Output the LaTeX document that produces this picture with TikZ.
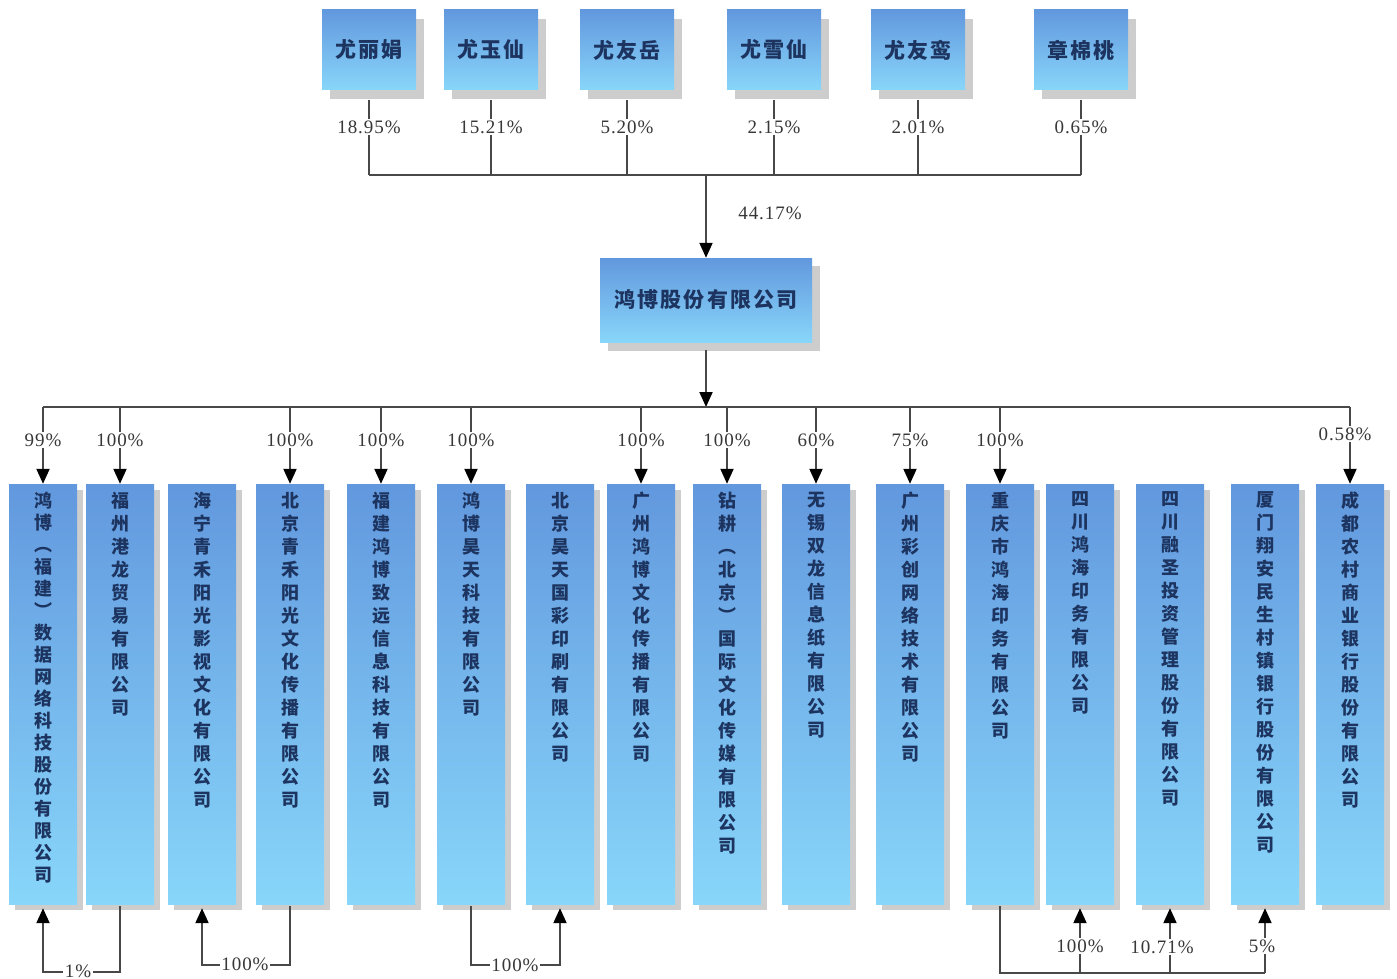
\documentclass[tikz,border=0pt]{standalone}
\usepackage{fontspec}
\setmainfont{Liberation Serif}
\newfontfamily\cjk{Noto Sans CJK SC}
\usetikzlibrary{shadows,arrows.meta}
\definecolor{boxtop}{RGB}{98,152,222}
\definecolor{boxbot}{RGB}{136,214,250}
\definecolor{txtc}{RGB}{28,52,95}
\definecolor{linec}{RGB}{72,72,72}
\definecolor{shadowc}{RGB}{205,205,205}
\definecolor{pctc}{RGB}{55,55,55}
\newcommand\cjkbig{\cjk\bfseries\fontsize{21}{24}\selectfont\addfontfeature{LetterSpace=10}}
\newcommand\cjkv{\cjk\bfseries\fontsize{18}{22}\selectfont}
\newcommand\pctfont{\fontsize{19}{21}\selectfont\addfontfeature{LetterSpace=5}}
\def\vtloop#1{\ifx#1\relax\else\hbox to 20pt{\hss#1\hss}\expandafter\vtloop\fi}
\newcommand\vertext[2][23]{\vbox to 404pt{\baselineskip=#1pt\lineskiplimit=-30pt\lineskip=0pt\vtloop#2\relax\vss}}
\begin{document}
\begin{tikzpicture}[x=1pt,y=-1pt,
  conn/.style={draw=linec, line width=2pt},
  arr/.style={-{Triangle[width=13pt,length=15pt,color=black]}},
  topbox/.style={top color=boxtop, bottom color=boxbot, inner sep=0pt,
    minimum width=94pt, minimum height=80pt, text=txtc, font=\cjkbig,
    drop shadow={shadow xshift=8pt, shadow yshift=-9pt, fill=shadowc, opacity=1}},
  mainbox/.style={topbox, minimum width=212pt, minimum height=84pt,
    drop shadow={shadow xshift=8pt, shadow yshift=-8pt, fill=shadowc, opacity=1}},
  bbox/.style={top color=boxtop, bottom color=boxbot, inner sep=0pt,
    minimum width=68pt, minimum height=420pt, text=txtc, font=\cjkv,
    drop shadow={shadow xshift=6pt, shadow yshift=-6pt, fill=shadowc, opacity=1}},
  pct/.style={fill=white, inner sep=1.5pt, text=pctc, font=\pctfont}
]
\fill[white] (0,0) rectangle (1397,979);
\useasboundingbox (0,0) rectangle (1397,979);

% levels
\coordinate (tb) at (0,175);
\coordinate (tl) at (0,127);
\coordinate (bb) at (0,407);
\coordinate (bl) at (0,440);
\coordinate (c1) at (0,972);
\coordinate (c2) at (0,965);
\coordinate (c3) at (0,973);
\coordinate (cl) at (0,946);

% top shareholders
\node[topbox] (t1) at (369,50) {尤丽娟};
\node[topbox] (t2) at (491,50) {尤玉仙};
\node[topbox] (t3) at (627,50) {尤友岳};
\node[topbox] (t4) at (774,50) {尤雪仙};
\node[topbox] (t5) at (918,50) {尤友鸾};
\node[topbox] (t6) at (1081,50) {章棉桃};

\node[mainbox] (m) at (706,300) {鸿博股份有限公司};

% bottom companies
\node[bbox] (b1) at (43,694) {\vertext[22]{鸿博︵福建︶数据网络科技股份有限公司}};
\node[bbox] (b2) at (120,694) {\vertext{福州港龙贸易有限公司}};
\node[bbox] (b3) at (202,694) {\vertext{海宁青禾阳光影视文化有限公司}};
\node[bbox] (b4) at (290,694) {\vertext{北京青禾阳光文化传播有限公司}};
\node[bbox] (b5) at (381,694) {\vertext{福建鸿博致远信息科技有限公司}};
\node[bbox] (b6) at (471,694) {\vertext{鸿博昊天科技有限公司}};
\node[bbox] (b7) at (560,694) {\vertext{北京昊天国彩印刷有限公司}};
\node[bbox] (b8) at (641,694) {\vertext{广州鸿博文化传播有限公司}};
\node[bbox] (b9) at (727,694) {\vertext{钻耕︵北京︶国际文化传媒有限公司}};
\node[bbox] (b10) at (816,694) {\vertext{无锡双龙信息纸有限公司}};
\node[bbox] (b11) at (910,694) {\vertext{广州彩创网络技术有限公司}};
\node[bbox] (b12) at (1000,694) {\vertext{重庆市鸿海印务有限公司}};
\node[bbox] (b13) at (1080,694) {\vertext{四川鸿海印务有限公司}};
\node[bbox] (b14) at (1170,694) {\vertext{四川融圣投资管理股份有限公司}};
\node[bbox] (b15) at (1265,694) {\vertext{厦门翔安民生村镇银行股份有限公司}};
\node[bbox] (b16) at (1350,694) {\vertext{成都农村商业银行股份有限公司}};

% top connectors
\foreach \n in {t1,t2,t3,t4,t5,t6}{
  \draw[conn] ([yshift=-10pt]\n.south) -- (\n.south |- tb);
}
\draw[conn] (t1.south |- tb) -- (t6.south |- tb);
\node[pct] (p1) at (t1.south |- tl) {18.95\%};
\node[pct] (p2) at (t2.south |- tl) {15.21\%};
\node[pct] (p3) at (t3.south |- tl) {5.20\%};
\node[pct] (p4) at (t4.south |- tl) {2.15\%};
\node[pct] (p5) at (t5.south |- tl) {2.01\%};
\node[pct] (p6) at (t6.south |- tl) {0.65\%};

\draw[conn,arr] (m.north |- tb) -- (m.north);
\node[pct] (pm) at (770,213) {44.17\%};

% bottom bus
\draw[conn,arr] ([yshift=-8pt]m.south) -- (m.south |- bb);
\draw[conn] (b1.north |- bb) -- (b16.north |- bb);
\foreach \n/\p in {b1/99,b2/100,b4/100,b5/100,b6/100,b8/100,b9/100,b10/60,b11/75,b12/100}{
  \draw[conn,arr] (\n.north |- bb) -- (\n.north);
  \node[pct] (q\n) at (\n.north |- bl) {\p\%};
}
\draw[conn,arr] (b16.north |- bb) -- (b16.north);
\node[pct] (qb16) at (1345,434) {0.58\%};

% bottom cross holdings
\draw[conn,arr] ([yshift=-2pt]b2.south) -- (b2.south |- c1) -| ([yshift=-4pt]b1.south);
\node[pct] (r1) at (78,971) {1\%};
\draw[conn,arr] ([yshift=-2pt]b4.south) -- (b4.south |- c2) -| ([yshift=-4pt]b3.south);
\node[pct] (r2) at (245,964) {100\%};
\draw[conn,arr] ([yshift=-2pt]b6.south) -- (b6.south |- c2) -| ([yshift=-4pt]b7.south);
\node[pct] (r3) at (515,965) {100\%};
\draw[conn] ([yshift=-2pt]b12.south) -- (b12.south |- c3) -- (b15.south |- c3);
\foreach \n in {b13,b14,b15}{
  \draw[conn,arr] (\n.south |- c3) -- ([yshift=-4pt]\n.south);
}
\node[pct] (r4) at (b13.south |- cl) {100\%};
\node[pct] (r5) at (1162,947) {10.71\%};
\node[pct] (r6) at (1262,946) {5\%};
\end{tikzpicture}
\end{document}
